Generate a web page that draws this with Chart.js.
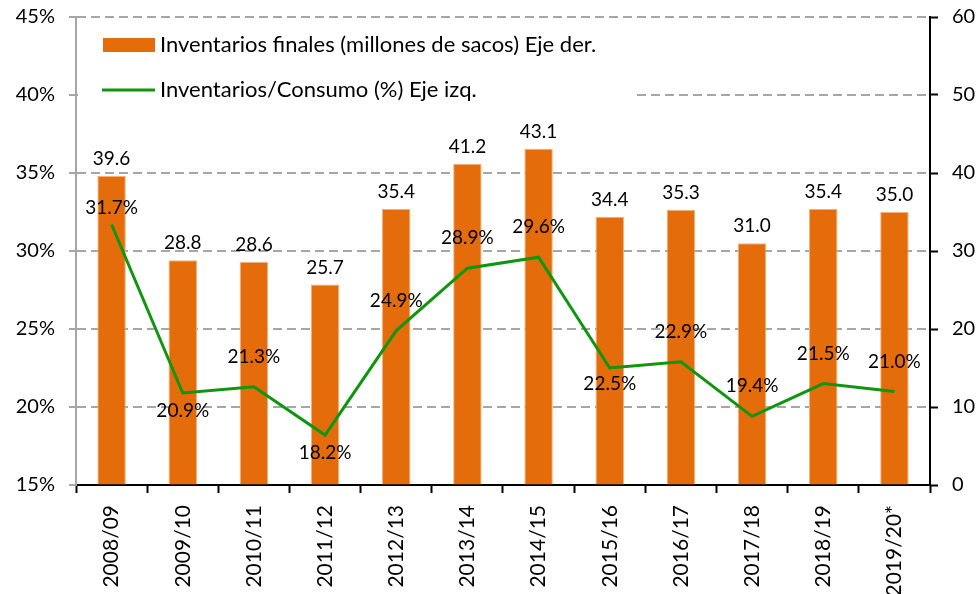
<!DOCTYPE html>
<html>
<head>
<meta charset="utf-8">
<script src="https://cdn.jsdelivr.net/npm/chart.js@4.4.1/dist/chart.umd.min.js"></script>
<style>
  html, body { margin: 0; padding: 0; background: #fff; }
  #wrap { width: 980px; height: 594px; }
</style>
</head>
<body>
<div id="wrap"><canvas id="chart" width="980" height="594"></canvas></div>
<script>
// Chart values
const categories = ['2008/09', '2009/10', '2010/11', '2011/12', '2012/13', '2013/14',
  '2014/15', '2015/16', '2016/17', '2017/18', '2018/19', '2019/20*'];
const inventarios = [39.6, 28.8, 28.6, 25.7, 35.4, 41.2, 43.1, 34.4, 35.3, 31.0, 35.4, 35.0];
const ratioConsumo = [31.7, 20.9, 21.3, 18.2, 24.9, 28.9, 29.6, 22.5, 22.9, 19.4, 21.5, 21.0];
const leftTicks = [15, 20, 25, 30, 35, 40, 45];
const rightTicks = [0, 10, 20, 30, 40, 50, 60];
const barLegend = 'Inventarios finales (millones de sacos) Eje der.';
const lineLegend = 'Inventarios/Consumo (%) Eje izq.';

const FONT = 'Lato, "Noto Sans", sans-serif';
const ORANGE = '#E46C0A';
const GREEN = '#0E960E';

// vertical shift (px) of each ratio label from its point
const lineLabelShift = [-17, 18, -30, 18, -30, -30, -30, 16, -30, -30, -30, -30];

// value labels + legend drawn by hand (Excel style)
const labelsPlugin = {
  id: 'valueLabels',
  beforeDatasetsDraw(chart) {
    const ctx = chart.ctx;
    const area = chart.chartArea;
    ctx.save();
    // legend box hides the grid behind it
    ctx.fillStyle = '#fff';
    ctx.fillRect(area.left + 2, 26, 556, 84);
    ctx.fillStyle = ORANGE;
    ctx.fillRect(103, 38, 52, 14);
    ctx.strokeStyle = GREEN;
    ctx.lineWidth = 3;
    ctx.beginPath();
    ctx.moveTo(102, 90);
    ctx.lineTo(155, 90);
    ctx.stroke();
    ctx.fillStyle = '#000';
    ctx.font = '22px ' + FONT;
    ctx.textBaseline = 'middle';
    ctx.textAlign = 'left';
    ctx.fillText(barLegend, 160, 45);
    ctx.fillText(lineLegend, 160, 90);
    ctx.restore();
  },
  afterDatasetsDraw(chart) {
    const ctx = chart.ctx;
    ctx.save();
    ctx.fillStyle = '#000';
    ctx.textAlign = 'center';
    ctx.textBaseline = 'middle';
    ctx.font = '19px ' + FONT;
    chart.getDatasetMeta(0).data.forEach((bar, i) => {
      ctx.fillText(inventarios[i].toFixed(1), bar.x, bar.y - 17);
    });
    chart.getDatasetMeta(1).data.forEach((pt, i) => {
      ctx.fillText(ratioConsumo[i].toFixed(1) + '%', pt.x, pt.y + lineLabelShift[i]);
    });
    ctx.restore();
  }
};

const ctx = document.getElementById('chart').getContext('2d');
const chart = new Chart(ctx, {
  type: 'bar',
  data: {
    labels: categories,
    datasets: [
      {
        type: 'bar',
        label: barLegend,
        data: inventarios,
        yAxisID: 'yRight',
        backgroundColor: ORANGE,
        borderColor: '#F3B07C',
        borderWidth: { left: 1, right: 1, top: 1, bottom: 0 },
        categoryPercentage: 1,
        barPercentage: 0.4,
        order: 2
      },
      {
        type: 'line',
        label: lineLegend,
        data: ratioConsumo,
        yAxisID: 'yLeft',
        borderColor: GREEN,
        borderWidth: 3,
        pointRadius: 0,
        tension: 0,
        fill: false,
        order: 1
      }
    ]
  },
  options: {
    responsive: false,
    animation: false,
    layout: { padding: { top: 17, left: 0, right: 0, bottom: 0 } },
    plugins: {
      legend: { display: false },
      tooltip: { enabled: false }
    },
    scales: {
      x: {
        offset: true,
        grid: {
          offset: true,
          drawOnChartArea: false,
          tickLength: 8,
          tickColor: '#000',
          tickWidth: 2
        },
        border: { color: '#000', width: 2 },
        ticks: {
          color: '#000',
          font: { family: FONT, size: 21 },
          minRotation: 90,
          maxRotation: 90,
          padding: 12,
          autoSkip: false
        },
        afterFit(scale) {
          scale.height = 109;
          scale.paddingLeft = 0;
          scale.paddingRight = 0;
        }
      },
      yLeft: {
        position: 'left',
        min: 15,
        max: 45,
        afterBuildTicks(scale) { scale.ticks = leftTicks.map(v => ({ value: v })); },
        grid: {
          color: '#A6A6A6',
          lineWidth: 2,
          tickLength: 7,
          tickBorderDash: [],
          tickColor: '#A6A6A6'
        },
        border: { color: '#A6A6A6', width: 2, dash: [9, 5] },
        ticks: {
          color: '#000',
          font: { family: FONT, size: 20 },
          padding: 14,
          callback: v => v + '%'
        },
        afterFit(scale) {
          scale.width = 76;
          scale.paddingTop = 0;
          scale.paddingBottom = 0;
        }
      },
      yRight: {
        position: 'right',
        min: 0,
        max: 60,
        afterBuildTicks(scale) { scale.ticks = rightTicks.map(v => ({ value: v })); },
        grid: {
          drawOnChartArea: false,
          tickLength: 8,
          tickColor: '#000',
          tickWidth: 2
        },
        border: { color: '#000', width: 2 },
        ticks: {
          color: '#000',
          font: { family: FONT, size: 20 },
          padding: 14
        },
        afterFit(scale) {
          scale.width = 50;
          scale.paddingTop = 0;
          scale.paddingBottom = 0;
        }
      }
    }
  },
  plugins: [labelsPlugin]
});
</script>
</body>
</html>
